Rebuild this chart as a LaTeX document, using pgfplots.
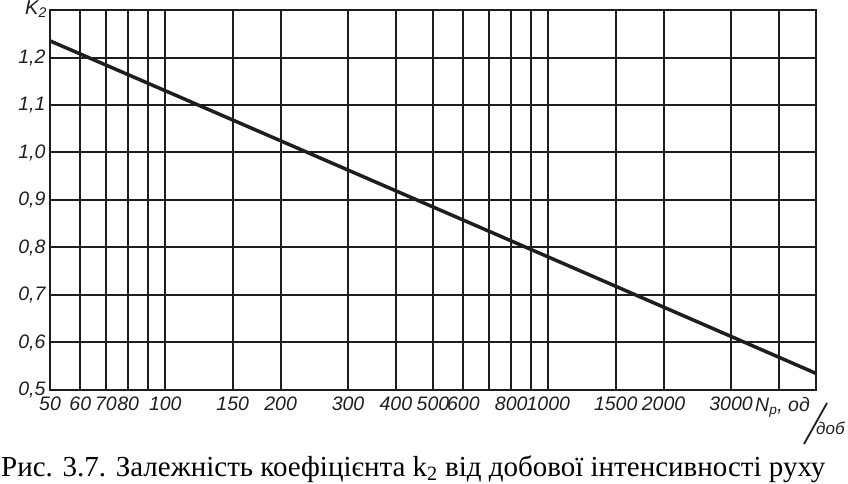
\documentclass[border=0pt]{standalone}
\usepackage{fontspec}
\setmainfont{Liberation Serif}
\newfontfamily\gost{Liberation Sans}
\usepackage{pgfplots}
\pgfplotsset{compat=1.18}
\definecolor{ink}{HTML}{1E1E1E}
\begin{document}
\begin{tikzpicture}
\path[use as bounding box] (-50pt,-94pt) rectangle (798pt,390pt);
\begin{axis}[
  at={(0pt,0pt)}, anchor=south west,
  scale only axis, width=766pt, height=380pt,
  xmode=log, xmin=50, xmax=5000, ymin=0.5, ymax=1.3,
  xtick={50,60,70,80,90,100,150,200,300,400,500,600,700,800,900,1000,1500,2000,3000,4000},
  xticklabels={50,60,70,80,,100,150,200,300,400,500,600,,800,,1000,1500,2000,3000,},
  ytick={0.5,0.6,0.7,0.8,0.9,1.0,1.1,1.2},
  yticklabels={{0,5},{0,6},{0,7},{0,8},{0,9},{1,0},{1,1},{1,2}},
  grid=major,
  major grid style={line width=2pt, ink},
  axis line style={line width=2pt, ink},
  major tick length=0pt,
  tick label style={font=\gost\itshape\fontsize{19.5}{23}\selectfont, text=ink},
  xticklabel style={anchor=north, yshift=-3pt},
  yticklabel style={anchor=east, xshift=-1pt},
  /pgf/number format/assume math mode=true,
  clip=false,
]
\addplot[line width=3.5pt, ink] coordinates {(50,1.235) (100,1.130) (1000,0.780) (5000,0.535)};
\end{axis}
\node[anchor=south west, inner sep=0pt, font=\gost\itshape\fontsize{20}{23}\selectfont, text=ink] at (-25pt,372pt) {K\textsubscript{2}};
\node[anchor=north west, inner sep=0pt, font=\gost\itshape\fontsize{19.5}{23}\selectfont, text=ink] at (705pt,-7pt) {N\textsubscript{р}, од};
\draw[ink, line width=1.8pt] (754pt,-54pt) -- (777pt,-13pt);
\node[anchor=south west, inner sep=0pt, font=\gost\itshape\fontsize{17}{20}\selectfont, text=ink] at (766pt,-45pt) {доб};
\node[anchor=base west, inner sep=0pt, font=\fontsize{29}{32}\selectfont] at (-49pt,-86pt) {Рис. 3.7. Залежність коефіцієнта k\textsubscript{2} від добової інтенсивності руху};
\end{tikzpicture}
\end{document}
